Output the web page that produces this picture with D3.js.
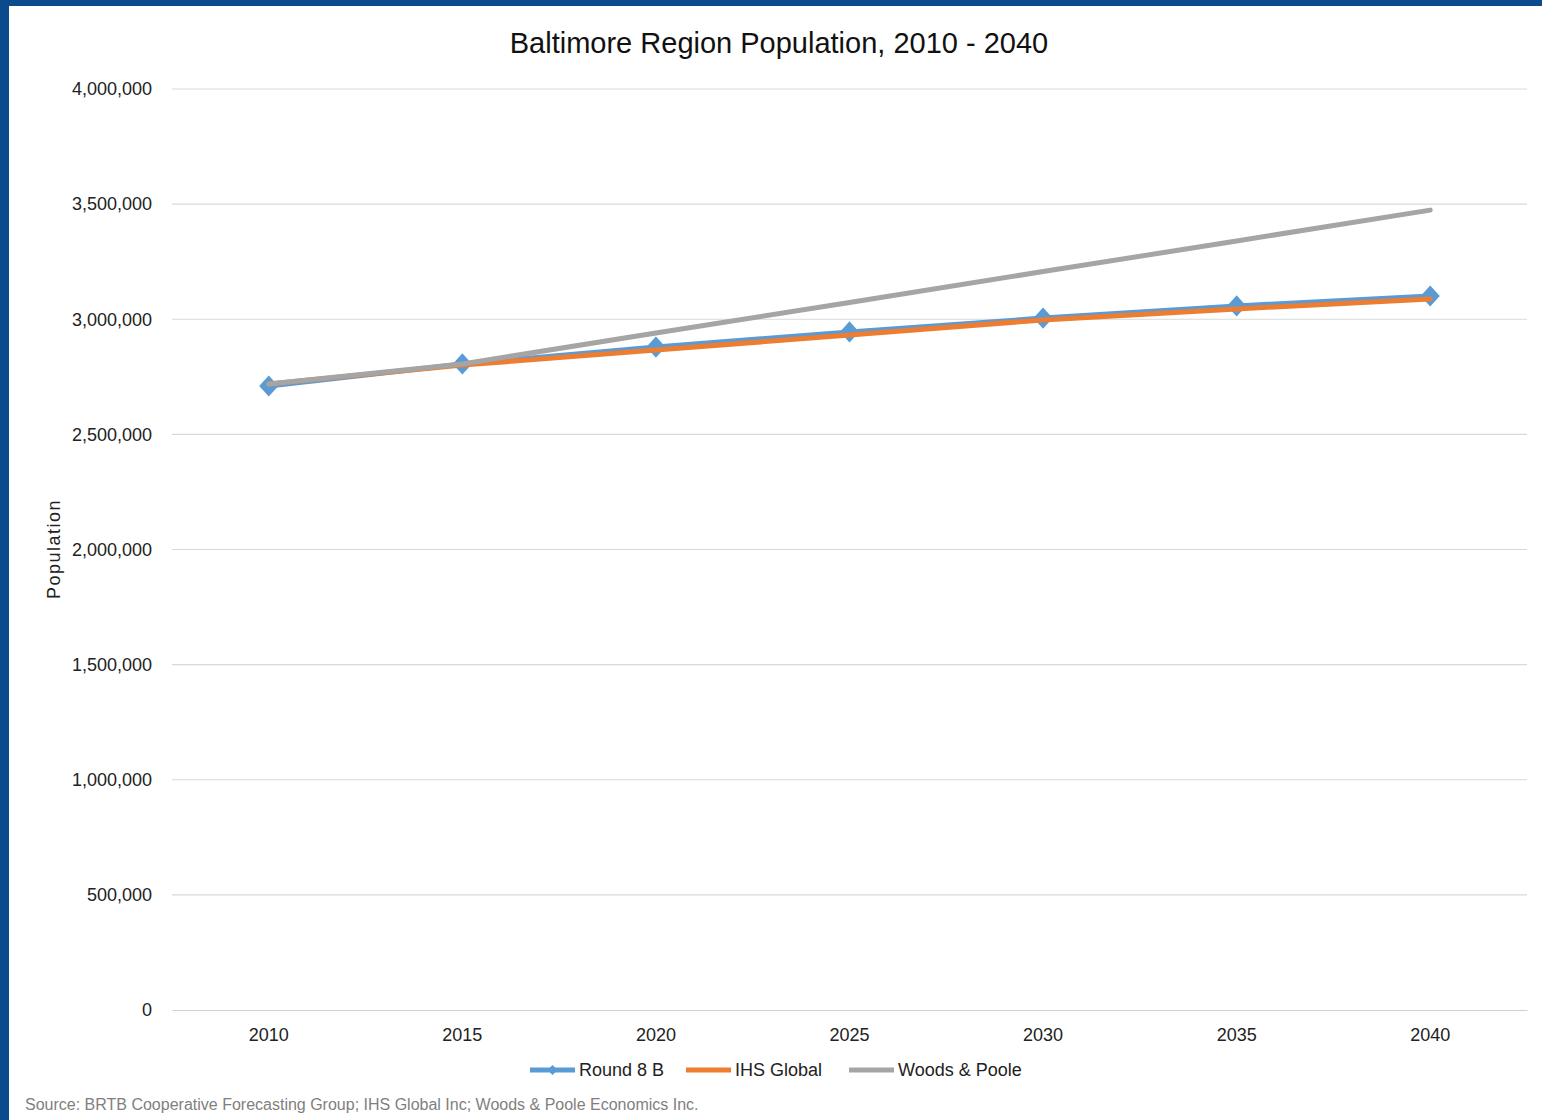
<!DOCTYPE html>
<html><head><meta charset="utf-8">
<script src="https://cdn.jsdelivr.net/npm/d3@7"></script>
<style>html,body{margin:0;padding:0;background:#fff;}svg{display:block;}</style>
</head><body>
<script>
const years = ["2010","2015","2020","2025","2030","2035","2040"];
const round8B = [2710000, 2806000, 2879000, 2945000, 3005000, 3058000, 3101000];
const ihsGlobal = [2719000, 2801000, 2866000, 2932000, 2997000, 3045000, 3088000];
const woodsPoole = [2719000, 2806000, 2940000, 3073000, 3207000, 3340000, 3474000];
const yTicks = [0, 500000, 1000000, 1500000, 2000000, 2500000, 3000000, 3500000, 4000000];
const seriesNames = ["Round 8 B", "IHS Global", "Woods & Poole"];
const seriesColors = ["#5b9bd5", "#ed7d31", "#a5a5a5"];
const titleText = "Baltimore Region Population, 2010 - 2040";
const sourceText = "Source: BRTB Cooperative Forecasting Group; IHS Global Inc; Woods & Poole Economics Inc.";

(function(){
const W = 1542, H = 1120;
const svg = d3.select("body").append("svg").attr("width", W).attr("height", H);
const font = "'Liberation Sans', Arial, sans-serif";

// border
svg.append("rect").attr("x",0).attr("y",0).attr("width",W).attr("height",H).attr("fill","#0b4a8c");
svg.append("rect").attr("x",9).attr("y",6).attr("width",W-9).attr("height",H-6).attr("fill","#fff");

const pL = 172, pR = 1527, pT = 89, pB = 1010;
const x = d3.scaleBand().domain(years).range([pL, pR]);
const y = d3.scaleLinear().domain([0, 4000000]).range([pB, pT]);

// gridlines
svg.append("g").selectAll("line").data(yTicks.filter(d => d > 0)).join("line")
  .attr("x1", pL).attr("x2", pR)
  .attr("y1", d => y(d)).attr("y2", d => y(d))
  .attr("stroke", "#d9d9d9").attr("stroke-width", 1.2);

// y axis
const yAxis = svg.append("g").attr("transform", `translate(${pL},0)`)
  .call(d3.axisLeft(y).tickValues(yTicks).tickFormat(d3.format(",")).tickSize(0).tickPadding(20));
yAxis.select(".domain").remove();
yAxis.selectAll("text").attr("font-family", font).attr("font-size", 18).attr("fill", "#222");

// x axis
const xAxis = svg.append("g").attr("transform", `translate(0,${pB})`)
  .call(d3.axisBottom(x).tickSize(0).tickPadding(18));
xAxis.select(".domain").attr("stroke", "#d0d0d0").attr("stroke-width", 1.2);
xAxis.selectAll("text").attr("font-family", font).attr("font-size", 18).attr("fill", "#222");

const cx = d => x(d) + x.bandwidth() / 2;
const line = d3.line().x((d, i) => cx(years[i])).y(d => y(d));

const allSeries = [round8B, ihsGlobal, woodsPoole];
allSeries.forEach((vals, si) => {
  svg.append("path").datum(vals).attr("d", line)
    .attr("fill", "none").attr("stroke", seriesColors[si]).attr("stroke-width", 5)
    .attr("stroke-linejoin", "round").attr("stroke-linecap", "round");
  if (si === 0) {
    svg.append("g").selectAll("path").data(vals).join("path")
      .attr("d", d3.symbol().type(d3.symbolSquare).size(185))
      .attr("transform", (d, i) => `translate(${cx(years[i])},${y(d)}) scale(1,1.1) rotate(45)`)
      .attr("fill", seriesColors[0]);
  }
});

// title
svg.append("text").attr("x", 779).attr("y", 53).attr("text-anchor", "middle")
  .attr("font-family", font).attr("font-size", 29).attr("fill", "#111").text(titleText);

// y title
svg.append("text").attr("transform", "translate(60,549) rotate(-90)").attr("text-anchor", "middle")
  .attr("font-family", font).attr("font-size", 18).attr("letter-spacing", "1.5px").attr("fill", "#222").text("Population");

// legend
const legX = [530, 686, 849];
seriesNames.forEach((name, i) => {
  const g = svg.append("g").attr("transform", `translate(${legX[i]},1070)`);
  g.append("line").attr("x1", 0).attr("x2", 45).attr("y1", 0).attr("y2", 0)
    .attr("stroke", seriesColors[i]).attr("stroke-width", 5);
  if (i === 0) {
    g.append("path").attr("d", d3.symbol().type(d3.symbolSquare).size(50))
      .attr("transform", "translate(22.5,0) rotate(45)").attr("fill", seriesColors[0]);
  }
  g.append("text").attr("x", 49).attr("y", 6).attr("font-family", font).attr("font-size", 18)
    .attr("fill", "#222").text(name);
});

// source
svg.append("text").attr("x", 25).attr("y", 1110).attr("font-family", font).attr("font-size", 16)
  .attr("fill", "#7f7f7f").text(sourceText);
})();
</script>
</body></html>
